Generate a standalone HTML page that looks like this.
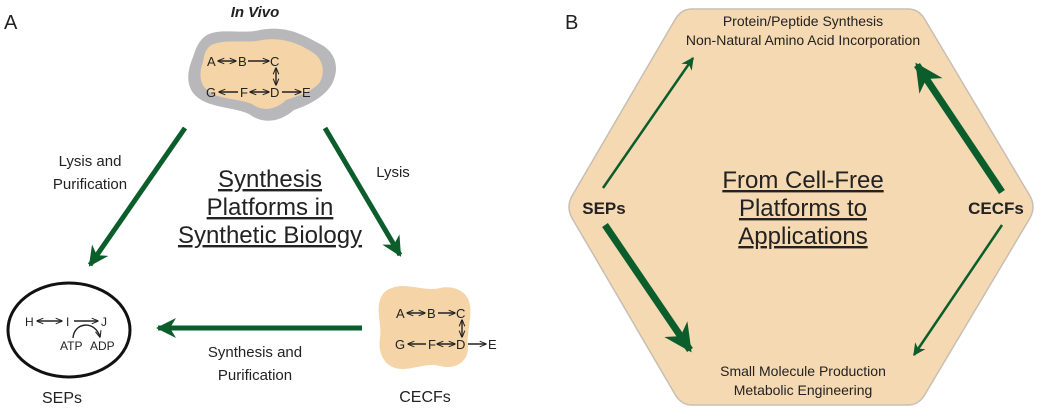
<!DOCTYPE html>
<html><head><meta charset="utf-8"><style>
body{margin:0;background:#fff;width:1050px;height:415px;overflow:hidden}
svg{font-family:"Liberation Sans",sans-serif}
</style></head><body>
<svg width="1050" height="415" viewBox="0 0 1050 415" xmlns="http://www.w3.org/2000/svg">
<defs>
<marker id="ah" viewBox="0 0 10 10" refX="9" refY="5" markerWidth="4" markerHeight="4" orient="auto-start-reverse"><path d="M0,0 L10,5 L0,10 L3,5 z" fill="#0b5e2c"/></marker>
<marker id="ah2" viewBox="0 0 10 10" refX="9" refY="5" markerWidth="5" markerHeight="5" orient="auto-start-reverse"><path d="M0,0 L10,5 L0,10 L3,5 z" fill="#0b5e2c"/></marker>
<marker id="sa" viewBox="0 0 10 10" refX="9" refY="5" markerWidth="5" markerHeight="5" orient="auto-start-reverse"><path d="M0,1 L10,5 L0,9" fill="none" stroke="#222" stroke-width="1.5"/></marker>
</defs>
<text x="4" y="29" font-size="20" fill="#222">A</text>
<text x="565" y="29" font-size="20" fill="#222">B</text>
<text x="255" y="17" font-size="15" font-weight="bold" font-style="italic" text-anchor="middle" fill="#222">In Vivo</text>
<path d="M203,38 C215,26 240,35 260,30 C285,25 302,34 320,44 C336,52 340,68 332,84 C324,98 306,106 294,110 C279,123 262,124 249,114 C234,107 210,108 197,97 C183,85 189,67 193,57 C196,48 198,43 203,38 z" fill="#b8b8bb"/>
<path d="M210,46 C222,38 245,44 262,40 C282,37 298,43 312,52 C322,58 326,70 320,82 C312,92 298,96 286,100 C276,110 262,112 252,104 C238,98 218,100 207,90 C198,82 200,70 203,62 C204,56 205,50 210,46 z" fill="#f5d4a8"/>
<g font-size="13" fill="#222">
<text x="207" y="66">A</text><text x="238" y="66">B</text><text x="270" y="66">C</text>
<text x="206" y="97">G</text><text x="240" y="97">F</text><text x="270" y="97">D</text><text x="302" y="97">E</text>
</g>
<g stroke="#222" stroke-width="1.4" fill="none">
<line x1="218" y1="61" x2="236" y2="61" marker-start="url(#sa)" marker-end="url(#sa)"/>
<line x1="248" y1="61" x2="269" y2="61" marker-end="url(#sa)"/>
<line x1="276" y1="68" x2="276" y2="85" marker-start="url(#sa)" marker-end="url(#sa)"/>
<line x1="238" y1="92" x2="219" y2="92" marker-end="url(#sa)"/>
<line x1="250" y1="92" x2="269" y2="92" marker-start="url(#sa)" marker-end="url(#sa)"/>
<line x1="282" y1="92" x2="301" y2="92" marker-end="url(#sa)"/>
</g>
<path d="M392,288 C405,282 425,292 440,288 C455,285 468,292 470,305 C472,320 466,335 468,348 C468,362 455,370 440,366 C425,362 410,372 395,368 C382,364 378,350 380,338 C382,325 376,312 380,300 C383,292 386,290 392,288 z" fill="#f5d4a8"/>
<g font-size="13" fill="#222">
<text x="396" y="318">A</text><text x="427" y="318">B</text><text x="456" y="318">C</text>
<text x="395" y="349">G</text><text x="428" y="349">F</text><text x="456" y="349">D</text><text x="488" y="349">E</text>
</g>
<g stroke="#222" stroke-width="1.4" fill="none">
<line x1="407" y1="313" x2="425" y2="313" marker-start="url(#sa)" marker-end="url(#sa)"/>
<line x1="438" y1="313" x2="455" y2="313" marker-end="url(#sa)"/>
<line x1="462" y1="320" x2="462" y2="337" marker-start="url(#sa)" marker-end="url(#sa)"/>
<line x1="426" y1="344" x2="408" y2="344" marker-end="url(#sa)"/>
<line x1="437" y1="344" x2="455" y2="344" marker-start="url(#sa)" marker-end="url(#sa)"/>
<line x1="468" y1="344" x2="486" y2="344" marker-end="url(#sa)"/>
</g>
<text x="425" y="402" font-size="16" text-anchor="middle" fill="#222">CECFs</text>
<ellipse cx="69" cy="330" rx="61" ry="47" fill="#fff" stroke="#111" stroke-width="3"/>
<g font-size="12" fill="#222">
<text x="25" y="326">H</text><text x="66" y="326">I</text><text x="101" y="326">J</text>
<text x="60" y="350">ATP</text><text x="90" y="350">ADP</text>
</g>
<g stroke="#222" stroke-width="1.4" fill="none">
<line x1="37" y1="321" x2="62" y2="321" marker-start="url(#sa)" marker-end="url(#sa)"/>
<line x1="74" y1="321" x2="98" y2="321" marker-end="url(#sa)"/>
<path d="M73,338 C74,322 95,320 100,337" marker-end="url(#sa)"/>
</g>
<text x="62" y="403" font-size="16" text-anchor="middle" fill="#222">SEPs</text>
<g stroke="#0b5e2c" stroke-width="5" fill="none">
<line x1="185" y1="128" x2="90" y2="265" marker-end="url(#ah)"/>
<line x1="325" y1="128" x2="400" y2="255" marker-end="url(#ah)"/>
<line x1="362" y1="328" x2="158" y2="328" marker-end="url(#ah)"/>
</g>
<g font-size="15" fill="#222" text-anchor="middle">
<text x="90" y="166">Lysis and</text><text x="90" y="189">Purification</text>
<text x="393" y="177">Lysis</text>
<text x="255" y="357">Synthesis and</text><text x="255" y="380">Purification</text>
</g>
<g font-size="24" fill="#222" text-anchor="middle">
<text x="270" y="187" text-decoration="underline">Synthesis</text>
<text x="270" y="215" text-decoration="underline">Platforms in</text>
<text x="270" y="243" text-decoration="underline">Synthetic Biology</text>
</g>
<path d="M692,9 L908,9 Q918,9 924,18 L1030,196 Q1036,207 1030,218 L924,396 Q918,405 908,405 L692,405 Q682,405 676,396 L572,218 Q566,207 572,196 L676,18 Q682,9 692,9 z" fill="#f5d9b2" stroke="#c8bfb2" stroke-width="1.5"/>
<g font-size="14" fill="#222" text-anchor="middle">
<text x="803" y="26">Protein/Peptide Synthesis</text>
<text x="803" y="45">Non-Natural Amino Acid Incorporation</text>
<text x="803" y="376">Small Molecule Production</text>
<text x="803" y="395">Metabolic Engineering</text>
</g>
<g font-size="24" fill="#222" text-anchor="middle">
<text x="803" y="188" text-decoration="underline">From Cell-Free</text>
<text x="803" y="216" text-decoration="underline">Platforms to</text>
<text x="803" y="244" text-decoration="underline">Applications</text>
</g>
<g font-size="17" font-weight="bold" fill="#222" text-anchor="middle">
<text x="604" y="214">SEPs</text>
<text x="996" y="214">CECFs</text>
</g>
<g stroke="#0b5e2c" fill="none">
<line x1="603" y1="188" x2="693" y2="58" stroke-width="2.5" marker-end="url(#ah2)"/>
<line x1="1002" y1="225" x2="914" y2="355" stroke-width="2.5" marker-end="url(#ah2)"/>
<line x1="605" y1="225" x2="690" y2="350" stroke-width="7" marker-end="url(#ah)"/>
<line x1="1002" y1="192" x2="917" y2="65" stroke-width="7" marker-end="url(#ah)"/>
</g>
</svg>
</body></html>
